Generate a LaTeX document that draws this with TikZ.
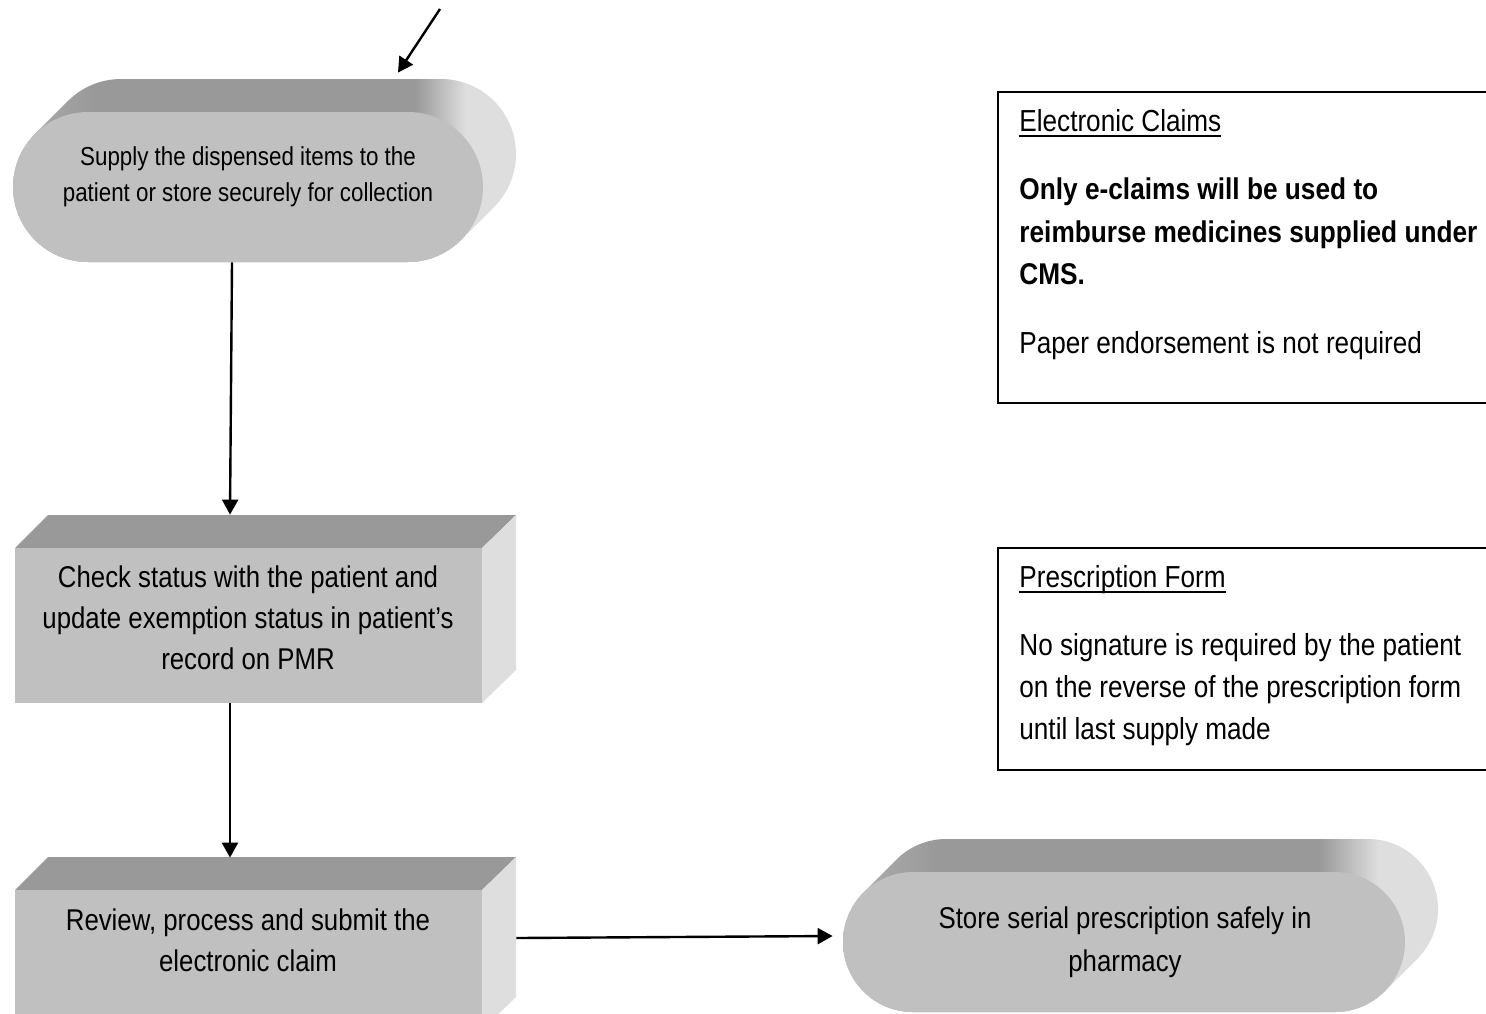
\documentclass[tikz,border=0pt]{standalone}
\usepackage{fontspec}
\setmainfont[FakeStretch=0.86]{Liberation Sans}
\newfontfamily\boldfam[FakeStretch=0.875]{Liberation Sans}
\usetikzlibrary{arrows.meta,calc}
\definecolor{frontc}{HTML}{C0C0C0}
\definecolor{topc}{HTML}{999999}
\definecolor{sidec}{HTML}{DEDEDE}
\definecolor{edgec}{HTML}{B0B0B0}
\pgfdeclarehorizontalshading{termsh}{100bp}{color(0bp)=(edgec); color(25bp)=(edgec); color(33bp)=(topc); color(65bp)=(topc); color(70bp)=(sidec); color(75bp)=(sidec); color(100bp)=(sidec)}
\newsavebox\ulbox
\newcommand\myul[1]{\sbox\ulbox{#1}\rlap{\rule[-3pt]{\wd\ulbox}{1pt}}\usebox\ulbox}
% terminal: #1 name, #2 L, #3 T, #4 R, #5 B
\newcommand\termshape[5]{%
  \pgfmathsetmacro\tr{(#5-#3)/2}%
  \pgfmathsetmacro\tcy{(#3+#5)/2}%
  \pgfmathsetmacro\tlx{#2+\tr}%
  \pgfmathsetmacro\trx{#4-\tr}%
  \shade[shading=termsh] ($(\tlx,\tcy)+(225:\tr)$) -- ($(\tlx+33,\tcy-33)+(225:\tr)$)
     arc[start angle=225,end angle=270,radius=\tr] -- (\trx+33,#3-33)
     arc[start angle=-90,end angle=45,radius=\tr] -- ($(\trx,\tcy)+(45:\tr)$)
     arc[start angle=45,end angle=90,radius=\tr] -- (\tlx,#5)
     arc[start angle=90,end angle=225,radius=\tr] -- cycle;
  \fill[frontc] (\tlx,#3) -- (\trx,#3) arc[start angle=-90,end angle=90,radius=\tr]
     -- (\tlx,#5) arc[start angle=90,end angle=270,radius=\tr] -- cycle;
  \node[inner sep=0pt,minimum width={(#4-#2)*0.5pt},minimum height={(#5-#3)*0.5pt}]
     (#1) at ({(#2+#4)/2},\tcy) {};
}
% cuboid: #1 name, #2 L, #3 T, #4 R, #5 B
\newcommand\boxshape[5]{%
  \fill[topc] (#2,#3) -- (#2+33,#3-33) -- (#4+34,#3-33) -- (#4,#3) -- cycle;
  \fill[sidec] (#4,#3) -- (#4+34,#3-33) -- (#4+34,#5-33) -- (#4,#5) -- cycle;
  \fill[frontc] (#2,#3) rectangle (#4,#5);
  \node[inner sep=0pt,minimum width={(#4-#2)*0.5pt},minimum height={(#5-#3)*0.5pt}]
     (#1) at ({(#2+#4)/2},{(#3+#5)/2}) {};
}
\tikzset{
  arr/.style={line width=1.2pt,-{Triangle[length=7.5pt,width=8pt]}},
  bigtext/.style={inner sep=0pt,align=center,font=\fontsize{15}{20.5}\selectfont},
  smalltext/.style={inner sep=0pt,align=center,font=\fontsize{13}{18}\selectfont},
  notebox/.style={draw,line width=1pt,inner sep=0pt},
  noteline/.style={inner sep=0pt,anchor=base west,font=\fontsize{15.2}{20}\selectfont},
  notebold/.style={inner sep=0pt,anchor=base west,font=\boldfam\bfseries\fontsize{15}{20}\selectfont}
}
\begin{document}
\begin{tikzpicture}[x=0.5pt,y=-0.5pt]
\fill[white] (0,0) rectangle (1486,1013);
\useasboundingbox (0,0) rectangle (1486,1013);

\termshape{t1}{13}{112}{483}{262}
\node[smalltext] (t1text) at (248,177) {Supply the dispensed items to the\\patient or store securely for collection};

\boxshape{b2}{15}{548}{482}{703}
\node[bigtext] (b2text) at (248,618) {Check status with the patient and\\update exemption status in patient’s\\record on PMR};

\boxshape{b3}{15}{890}{482}{1030}
\node[bigtext] (b3text) at (248,940.5) {Review, process and submit the\\electronic claim};

\termshape{t4}{843}{872}{1405}{1012}
\node[bigtext,font=\fontsize{15}{21.5}\selectfont] (t4text) at (1125,942) {Store serial prescription safely in\\pharmacy};

% note boxes
\node[notebox,minimum width=249pt,minimum height=155.5pt] (ec) at (1247,247.5) {};
\node[noteline] (ec1) at (1019,131) {\myul{Electronic Claims}};
\node[notebold] (ec2) at (1019,199.5) {Only e-claims will be used to};
\node[notebold] (ec3) at (1019,242) {reimburse medicines supplied under};
\node[notebold] (ec4) at (1019,284.5) {CMS.};
\node[noteline] (ec5) at (1019,353.5) {Paper endorsement is not required};

\node[notebox,minimum width=249pt,minimum height=111pt] (pf) at (1247,659) {};
\node[noteline] (pf1) at (1019,587) {\myul{Prescription Form}};
\node[noteline] (pf2) at (1019,655.5) {No signature is required by the patient};
\node[noteline] (pf3) at (1019,697.5) {on the reverse of the prescription form};
\node[noteline] (pf4) at (1019,739.5) {until last supply made};

% connectors
\coordinate (in) at (440,9);
\draw[arr] (in) -- ($(t1.north)+(150,-39)$);
\draw[arr] ($(t1.south)+(-16,0)$) -- ($(b2.north)+(-18.5,-33)$);
\draw[arr] ($(b2.south)+(-18.5,0)$) -- ($(b3.north)+(-18.5,-32)$);
\draw[arr] ($(b3.east)+(34,-22)$) -- ($(t4.west)+(-10,-6)$);
\end{tikzpicture}
\end{document}
